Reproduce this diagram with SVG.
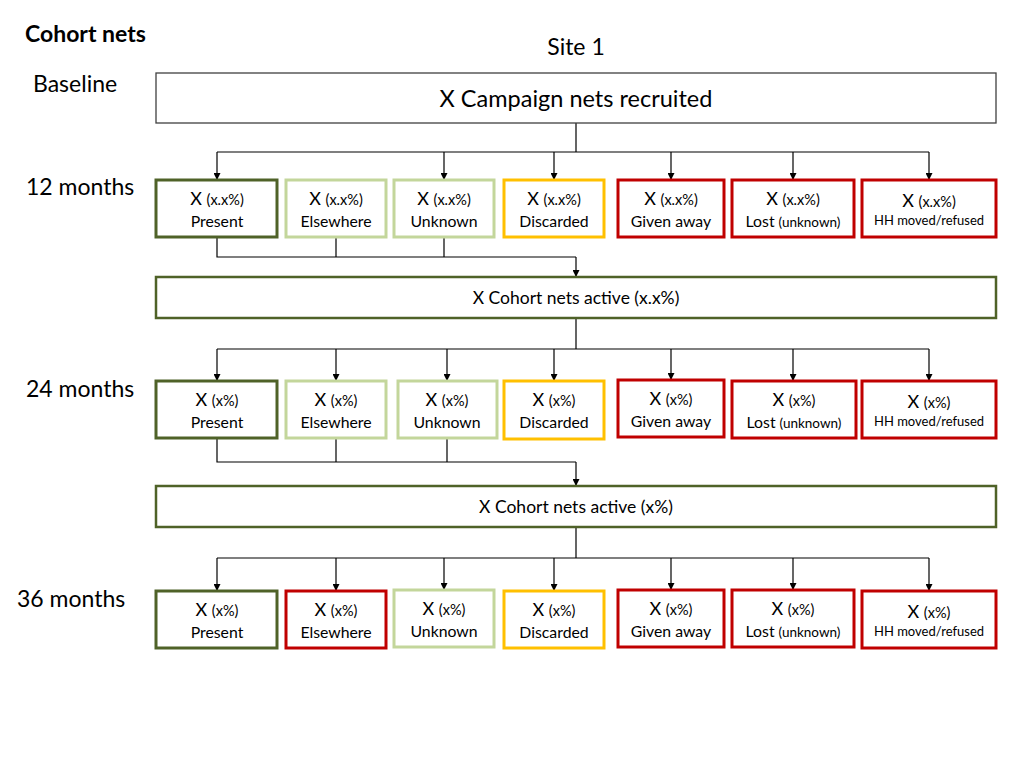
<svg xmlns="http://www.w3.org/2000/svg" width="1024" height="768" viewBox="0 0 1024 768">
<style>
text{font-family:Lato,"Open Sans","Liberation Sans",sans-serif;fill:#000}
.lbl{font-size:23px}
.box{fill:#fff}
.big{fill:#fff;stroke:#404040;stroke-width:1.3}
.act{fill:#fff;stroke:#4F6228;stroke-width:2.5}
.pr{stroke:#4F6228;stroke-width:3}
.lg{stroke:#C3D69B;stroke-width:3}
.go{stroke:#FFC000;stroke-width:3}
.rd{stroke:#C00000;stroke-width:3}
.t1{font-size:18px;text-anchor:middle}
.t1 tspan.s{font-size:14.5px}
.t2{font-size:15.8px;text-anchor:middle}
.t2 tspan.s{font-size:13.5px}
.t3{font-size:13px;text-anchor:middle}
.c{fill:none;stroke:#000;stroke-width:1.2}
.ca{fill:none;stroke:#000;stroke-width:1.2;marker-end:url(#ah)}
</style>
<defs>
<marker id="ah" viewBox="0 0 10 10" refX="10" refY="5" markerWidth="7" markerHeight="7" markerUnits="userSpaceOnUse" orient="auto">
<path d="M0,0 L10,5 L0,10 z" fill="#000"/>
</marker>
</defs>
<rect width="1024" height="768" fill="#fff"/>
<g id="labels">
<text x="25" y="42" class="lbl" style="font-weight:bold">Cohort nets</text>
<text x="576" y="55" class="lbl" text-anchor="middle">Site 1</text>
<text x="33" y="92" class="lbl">Baseline</text>
<text x="26" y="195" class="lbl">12 months</text>
<text x="26" y="397" class="lbl">24 months</text>
<text x="17" y="607" class="lbl">36 months</text>
</g>
<g id="connectors">
<path class="c" d="M576,123 V152 M217,152 H929"/>
<path class="ca" d="M217,152 V180"/>
<path class="ca" d="M444,152 V180"/>
<path class="ca" d="M554,152 V180"/>
<path class="ca" d="M671,152 V180"/>
<path class="ca" d="M793,152 V180"/>
<path class="ca" d="M929,152 V180"/>
<path class="c" d="M217,237 V257 H576 M336,237 V257 M444,237 V257"/>
<path class="ca" d="M576,257 V277"/>
<path class="c" d="M576,318 V349 M217,349 H929"/>
<path class="ca" d="M217,349 V381"/>
<path class="ca" d="M336,349 V381"/>
<path class="ca" d="M447,349 V381"/>
<path class="ca" d="M554,349 V381"/>
<path class="ca" d="M671,349 V380"/>
<path class="ca" d="M793,349 V381"/>
<path class="ca" d="M929,349 V381"/>
<path class="c" d="M217,438 V462 H576 M336,438 V462 M447,438 V462"/>
<path class="ca" d="M576,462 V486"/>
<path class="c" d="M576,527 V558 M217,558 H929"/>
<path class="ca" d="M217,558 V591"/>
<path class="ca" d="M336,558 V591"/>
<path class="ca" d="M444,558 V590"/>
<path class="ca" d="M554,558 V591"/>
<path class="ca" d="M671,558 V590"/>
<path class="ca" d="M793,558 V590"/>
<path class="ca" d="M929,558 V591"/>
</g>
<g id="baseline">
<rect x="156" y="73" width="840" height="50" class="big"/>
<text x="576" y="107" style="font-size:23.5px" text-anchor="middle">X Campaign nets recruited</text>
</g>
<g id="r1-present"><rect x="156" y="180" width="121" height="57" class="box pr"/><text x="217" y="205" class="t1">X <tspan class="s">(x.x%)</tspan></text><text x="217" y="227" class="t2">Present</text></g>
<g id="r1-elsewhere"><rect x="286" y="180" width="100" height="57" class="box lg"/><text x="336" y="205" class="t1">X <tspan class="s">(x.x%)</tspan></text><text x="336" y="227" class="t2">Elsewhere</text></g>
<g id="r1-unknown"><rect x="394" y="180" width="100" height="57" class="box lg"/><text x="444" y="205" class="t1">X <tspan class="s">(x.x%)</tspan></text><text x="444" y="227" class="t2">Unknown</text></g>
<g id="r1-discarded"><rect x="504" y="180" width="100" height="57" class="box go"/><text x="554" y="205" class="t1">X <tspan class="s">(x.x%)</tspan></text><text x="554" y="227" class="t2">Discarded</text></g>
<g id="r1-given"><rect x="618" y="180" width="106" height="57" class="box rd"/><text x="671" y="205" class="t1">X <tspan class="s">(x.x%)</tspan></text><text x="671" y="227" class="t2">Given away</text></g>
<g id="r1-lost"><rect x="732" y="180" width="122" height="57" class="box rd"/><text x="793" y="205" class="t1">X <tspan class="s">(x.x%)</tspan></text><text x="793" y="227" class="t2">Lost <tspan class="s">(unknown)</tspan></text></g>
<g id="r1-hh"><rect x="862" y="180" width="134" height="57" class="box rd"/><text x="929" y="207" class="t1">X <tspan class="s">(x.x%)</tspan></text><text x="929" y="225" class="t3">HH moved/refused</text></g>
<g id="active1">
<rect x="156" y="277" width="840" height="41" class="act"/>
<text x="576" y="304" style="font-size:17.5px" text-anchor="middle">X Cohort nets active (x.x%)</text>
</g>
<g id="r2-present"><rect x="156" y="381" width="121" height="57" class="box pr"/><text x="217" y="406" class="t1">X <tspan class="s">(x%)</tspan></text><text x="217" y="428" class="t2">Present</text></g>
<g id="r2-elsewhere"><rect x="286" y="381" width="100" height="57" class="box lg"/><text x="336" y="406" class="t1">X <tspan class="s">(x%)</tspan></text><text x="336" y="428" class="t2">Elsewhere</text></g>
<g id="r2-unknown"><rect x="398" y="381" width="99" height="57" class="box lg"/><text x="447" y="406" class="t1">X <tspan class="s">(x%)</tspan></text><text x="447" y="428" class="t2">Unknown</text></g>
<g id="r2-discarded"><rect x="504" y="381" width="100" height="58" class="box go"/><text x="554" y="406" class="t1">X <tspan class="s">(x%)</tspan></text><text x="554" y="428" class="t2">Discarded</text></g>
<g id="r2-given"><rect x="618" y="380" width="106" height="57" class="box rd"/><text x="671" y="405" class="t1">X <tspan class="s">(x%)</tspan></text><text x="671" y="427" class="t2">Given away</text></g>
<g id="r2-lost"><rect x="732" y="381" width="124" height="57" class="box rd"/><text x="794" y="406" class="t1">X <tspan class="s">(x%)</tspan></text><text x="794" y="428" class="t2">Lost <tspan class="s">(unknown)</tspan></text></g>
<g id="r2-hh"><rect x="862" y="381" width="134" height="57" class="box rd"/><text x="929" y="408" class="t1">X <tspan class="s">(x%)</tspan></text><text x="929" y="426" class="t3">HH moved/refused</text></g>
<g id="active2">
<rect x="156" y="486" width="840" height="41" class="act"/>
<text x="576" y="513" style="font-size:17.5px" text-anchor="middle">X Cohort nets active (x%)</text>
</g>
<g id="r3-present"><rect x="156" y="591" width="121" height="57" class="box pr"/><text x="217" y="616" class="t1">X <tspan class="s">(x%)</tspan></text><text x="217" y="638" class="t2">Present</text></g>
<g id="r3-elsewhere"><rect x="286" y="591" width="100" height="57" class="box rd"/><text x="336" y="616" class="t1">X <tspan class="s">(x%)</tspan></text><text x="336" y="638" class="t2">Elsewhere</text></g>
<g id="r3-unknown"><rect x="394" y="590" width="100" height="57" class="box lg"/><text x="444" y="615" class="t1">X <tspan class="s">(x%)</tspan></text><text x="444" y="637" class="t2">Unknown</text></g>
<g id="r3-discarded"><rect x="504" y="591" width="100" height="57" class="box go"/><text x="554" y="616" class="t1">X <tspan class="s">(x%)</tspan></text><text x="554" y="638" class="t2">Discarded</text></g>
<g id="r3-given"><rect x="618" y="590" width="106" height="57" class="box rd"/><text x="671" y="615" class="t1">X <tspan class="s">(x%)</tspan></text><text x="671" y="637" class="t2">Given away</text></g>
<g id="r3-lost"><rect x="732" y="590" width="122" height="57" class="box rd"/><text x="793" y="615" class="t1">X <tspan class="s">(x%)</tspan></text><text x="793" y="637" class="t2">Lost <tspan class="s">(unknown)</tspan></text></g>
<g id="r3-hh"><rect x="862" y="591" width="134" height="57" class="box rd"/><text x="929" y="618" class="t1">X <tspan class="s">(x%)</tspan></text><text x="929" y="636" class="t3">HH moved/refused</text></g>
</svg>
